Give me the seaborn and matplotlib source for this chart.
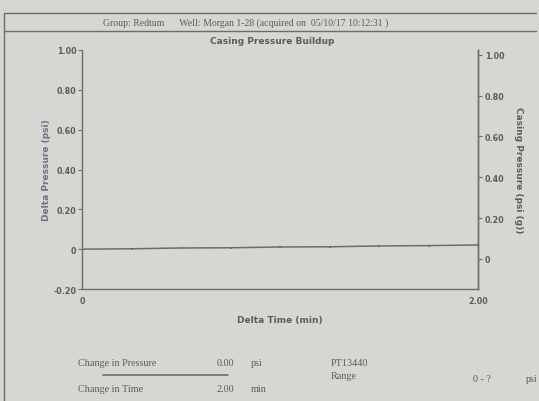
import matplotlib
matplotlib.use("Agg")
import matplotlib.pyplot as plt
import seaborn as sns
import pandas as pd

# ---- data ----
delta_time = [0.0, 0.25, 0.5, 0.75, 1.0, 1.25, 1.5, 1.75, 2.0]
delta_pressure = [0.0, 0.002, 0.006, 0.007, 0.011, 0.012, 0.016, 0.018, 0.021]
left_ticks = [-0.20, 0.0, 0.20, 0.40, 0.60, 0.80, 1.00]
left_tick_labels = ["-0.20", "0", "0.20", "0.40", "0.60", "0.80", "1.00"]
right_ticks = [0.0, 0.20, 0.40, 0.60, 0.80, 1.00]
right_tick_labels = ["0", "0.20", "0.40", "0.60", "0.80", "1.00"]
x_ticks = [0.0, 2.0]
x_tick_labels = ["0", "2.00"]

header = "Group: Redtum      Well: Morgan 1-28 (acquired on  05/10/17 10:12:31 )"
title = "Casing Pressure Buildup"

BG = "#d6d7d3"
INK = "#5a5c5e"
LINE = "#6a6c6e"

sns.set_theme(style="white")
plt.rcParams["font.family"] = ["DejaVu Sans"]

df = pd.DataFrame({"t": delta_time, "p": delta_pressure})

W, H = 539, 402
fig = plt.figure(figsize=(W / 100, H / 100), dpi=100, facecolor=BG)

def fx(px):
    return px / W

def fy(py):
    return 1 - py / H

ax = fig.add_axes([fx(82), fy(290), fx(478) - fx(82), fy(51) - fy(290)])
ax.set_facecolor(BG)
sns.lineplot(data=df, x="t", y="p", ax=ax, color=LINE, lw=1.1,
             marker="s", markersize=1.8, markeredgewidth=0, markerfacecolor=LINE)
ax.set_xlim(0, 2.0)
ax.set_ylim(-0.20, 1.00)
ax.set_xticks(x_ticks)
ax.set_xticklabels(x_tick_labels)
ax.set_yticks(left_ticks)
ax.set_yticklabels(left_tick_labels)
ax.set_xlabel("Delta Time (min)", fontsize=6.5, fontweight="bold", color=INK, labelpad=7)
ax.set_ylabel("Delta Pressure (psi)", fontsize=6.5, fontweight="bold", color="#6a7384", labelpad=2)
for s in ["left", "bottom", "right"]:
    ax.spines[s].set_color(LINE)
    ax.spines[s].set_linewidth(1.0)
ax.spines["top"].set_visible(False)
ax.tick_params(axis="both", which="both", direction="out", length=3, width=0.8,
               color=LINE, labelsize=5.8, labelcolor=INK, pad=1)
ax.tick_params(axis="x", length=4)
for lbl in ax.get_xticklabels() + ax.get_yticklabels():
    lbl.set_fontweight("bold")

ax2 = ax.twinx()
ax2.set_ylim(-0.148, 1.024)
ax2.set_yticks(right_ticks)
ax2.set_yticklabels(right_tick_labels)
ax2.set_ylabel("Casing Pressure (psi (g))", fontsize=6.5, fontweight="bold",
               color=INK, rotation=270, labelpad=13)
for s in ["left", "bottom", "top"]:
    ax2.spines[s].set_visible(False)
ax2.spines["right"].set_color(LINE)
ax2.spines["right"].set_linewidth(1.0)
ax2.tick_params(axis="y", direction="out", length=3, width=0.8, color=LINE,
                labelsize=5.8, labelcolor=INK, pad=2)
for lbl in ax2.get_yticklabels():
    lbl.set_fontweight("bold")

# ---- frame and header ----
frame_kw = dict(color=LINE, lw=1.0, transform=fig.transFigure)
fig.add_artist(plt.Line2D([fx(4), fx(536)], [fy(14), fy(14)], **frame_kw))
fig.add_artist(plt.Line2D([fx(4), fx(536)], [fy(32), fy(32)], **frame_kw))
fig.add_artist(plt.Line2D([fx(4), fx(4)], [fy(14), fy(402)], **frame_kw))
fig.text(fx(103), fy(23), header, fontsize=7.0, family="Liberation Serif",
         color=INK, va="center", ha="left")
fig.text(fx(272), fy(41), title, fontsize=6.5, fontweight="bold",
         color=INK, va="center", ha="center")

# ---- summary footer ----
serif = dict(family="Liberation Serif", color=INK, fontsize=7.3, va="center")
fig.text(fx(78), fy(364), "Change in Pressure", ha="left", **serif)
fig.text(fx(234), fy(364), "0.00", ha="right", **serif)
fig.text(fx(251), fy(364), "psi", ha="left", **serif)
fig.add_artist(plt.Line2D([fx(103), fx(228)], [fy(376), fy(376)], color=LINE, lw=1.2,
                          transform=fig.transFigure))
fig.text(fx(78), fy(390), "Change in Time", ha="left", **serif)
fig.text(fx(234), fy(390), "2.00", ha="right", **serif)
fig.text(fx(251), fy(390), "min", ha="left", **serif)
fig.text(fx(331), fy(363), "PT13440", ha="left", **serif)
fig.text(fx(331), fy(377), "Range", ha="left", **serif)
fig.text(fx(473), fy(380), "0 - ?", ha="left", **serif)
fig.text(fx(526), fy(380), "psi", ha="left", **serif)

fig.savefig("out.png", dpi=100, facecolor=BG)
